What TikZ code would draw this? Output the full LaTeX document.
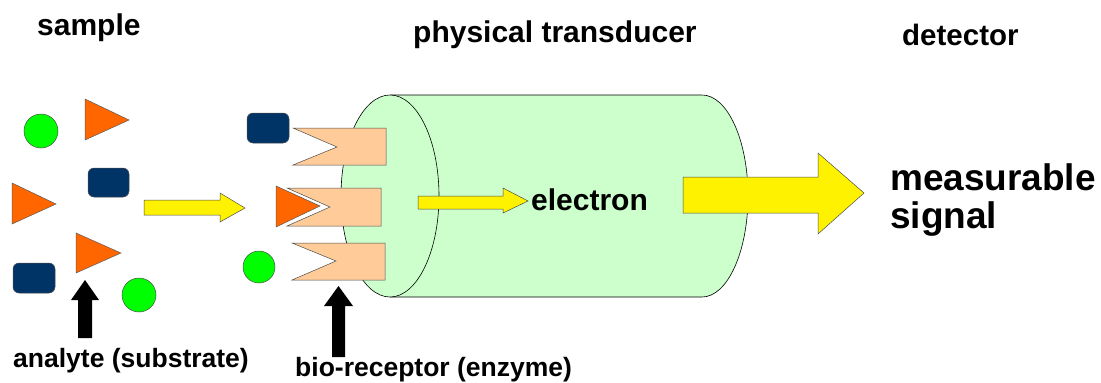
\documentclass[tikz,border=0pt]{standalone}
\usepackage{fontspec}
\setmainfont{Liberation Sans}
\begin{document}
\begin{tikzpicture}[x=1pt,y=-1pt,
  lbl/.style={inner sep=0pt, font=\bfseries},
  orangetri/.style={fill=orgc, draw=gray!70!black, line width=0.5pt},
  navyrect/.style={fill=navyc, draw=gray!60!black, line width=0.5pt, rounded corners=6pt},
  greendot/.style={fill=grnc, draw=gray!60!black, line width=0.5pt},
  receptor/.style={fill=peachc, draw=gray!60!black, line width=0.5pt},
  yarrow/.style={fill=yellow, draw=gray!60!black, line width=0.5pt},
  barrow/.style={fill=black, draw=none},
]
\definecolor{orgc}{HTML}{FF6600}
\definecolor{navyc}{HTML}{003366}
\definecolor{grnc}{HTML}{00FF00}
\definecolor{peachc}{HTML}{FFCC99}
\definecolor{cylc}{HTML}{CCFFCC}
\useasboundingbox (0,0) rectangle (1101,383);

% titles
\node[lbl, anchor=base west, font=\bfseries\fontsize{30}{34}\selectfont] (sample) at (37,35) {sample};
\node[lbl, anchor=base west, font=\bfseries\fontsize{30}{34}\selectfont] (phys) at (413,42) {physical transducer};
\node[lbl, anchor=base west, font=\bfseries\fontsize{29.5}{33}\selectfont] (det) at (902,45) {detector};

% sample particles
\draw[greendot] (41,131) circle[radius=17];
\draw[orangetri] (85,99) -- (85,140) -- (129,120) -- cycle;
\draw[navyrect] (88,168) rectangle (129,197);
\draw[orangetri] (12,183) -- (12,224) -- (56,204) -- cycle;
\draw[orangetri] (76,233) -- (76,273) -- (121,253) -- cycle;
\draw[navyrect] (13,263) rectangle (55,293);
\draw[greendot] (139,295) circle[radius=17];

% yellow arrow sample -> receptor
\draw[yarrow] (144,200) -- (220,200) -- (220,193) -- (245,208) -- (220,222) -- (220,215) -- (144,215) -- cycle;

% cylinder
\fill[cylc] (390,95) -- (702,95) .. controls (727.4,95) and (748,140.2) .. (748,196)
  .. controls (748,251.8) and (727.4,297) .. (702,297) -- (390,297) -- cycle;
\draw[line width=0.6pt] (390,95) -- (702,95) .. controls (727.4,95) and (748,140.2) .. (748,196)
  .. controls (748,251.8) and (727.4,297) .. (702,297) -- (390,297);
\draw[fill=cylc, line width=0.6pt] (390,196) ellipse[x radius=49, y radius=101];

% receptors
\draw[receptor] (293,128) -- (386,128) -- (386,165) -- (293,165) -- (337,147) -- cycle;
\draw[receptor] (287,188) -- (381,188) -- (381,226) -- (287,226) -- (330,207) -- cycle;
\draw[receptor] (292,243) -- (385,243) -- (385,280) -- (292,280) -- (336,261) -- cycle;

% bound substrate in receptor 2
\draw[white, line width=3pt, line join=miter] (276,186) -- (276,227) -- (320,206) -- cycle;
\draw[orangetri] (276,186) -- (276,227) -- (320,206) -- cycle;

% free particles near receptors
\draw[navyrect] (247,113) rectangle (289,143);
\draw[greendot] (259,267) circle[radius=16];

% electron arrow
\draw[yarrow] (418,196) -- (503,196) -- (503,188) -- (528,201) -- (503,213) -- (503,209) -- (418,209) -- cycle;
\node[lbl, anchor=base west, font=\bfseries\fontsize{30}{34}\selectfont] (el) at (531,210) {electron};

% big yellow arrow
\draw[yarrow] (683,177) -- (818,177) -- (818,153) -- (864,193) -- (818,234) -- (818,213) -- (683,213) -- cycle;
\node[lbl, anchor=base west, font=\bfseries\fontsize{37}{38}\selectfont] (meas) at (890,190) {measurable};
\node[lbl, anchor=base west, font=\bfseries\fontsize{37}{38}\selectfont] (sig) at (890,228) {signal};

% black arrows and labels
\fill[barrow] (78,338) -- (78,300) -- (71,300) -- (85,280) -- (99,300) -- (92,300) -- (92,338) -- cycle;
\node[lbl, anchor=base west, font=\bfseries\fontsize{26.5}{30}\selectfont] (ana) at (13,367) {analyte (substrate)};
\fill[barrow] (332,357) -- (332,306) -- (324,306) -- (338.5,286) -- (353,306) -- (345,306) -- (345,357) -- cycle;
\node[lbl, anchor=base west, font=\bfseries\fontsize{26.5}{30}\selectfont] (bio) at (295,376) {bio-receptor (enzyme)};
\end{tikzpicture}
\end{document}
